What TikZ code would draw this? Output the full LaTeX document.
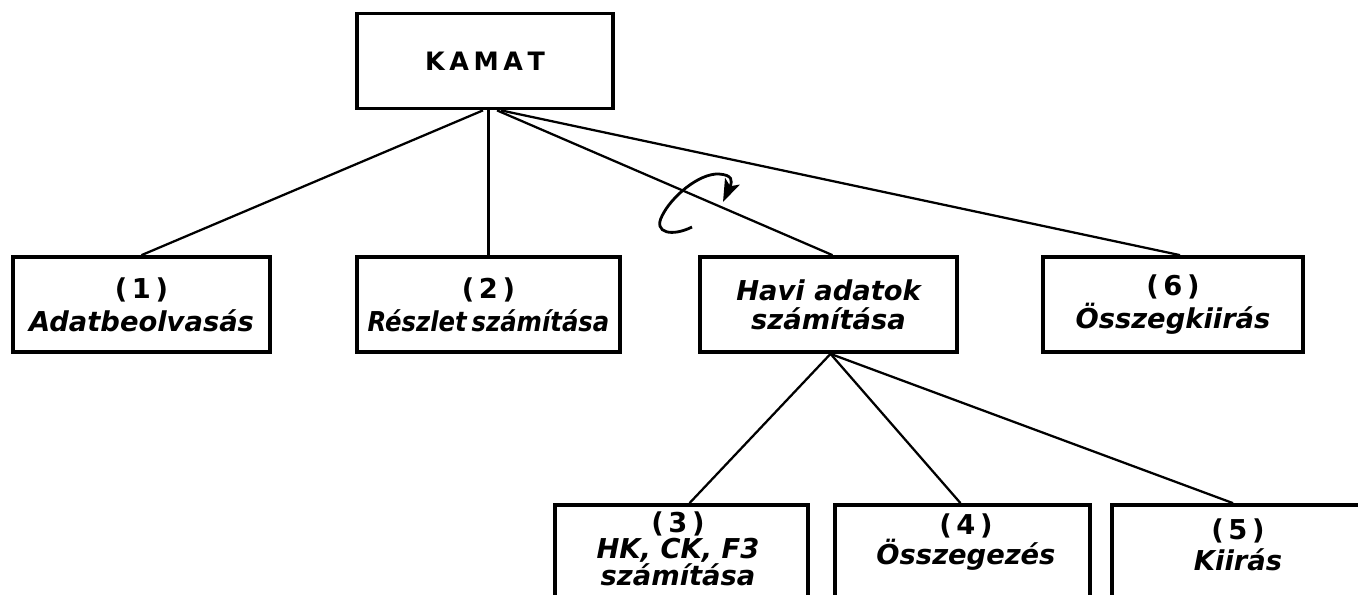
\documentclass[tikz,border=0pt]{standalone}
\usepackage{fontspec}
\usepackage{graphicx}
\setmainfont{DejaVu Sans}
\usetikzlibrary{arrows.meta,calc}
\newcommand\lblfont{\fontsize{20.5}{25}\selectfont\bfseries}
\newcommand\num[1]{{\upshape(\,#1\,)}}
\begin{document}
\begin{tikzpicture}[x=0.75pt,y=-0.75pt,
  box/.style={draw, rectangle, line width=2.8pt, inner sep=0pt, align=center, font=\lblfont},
  txt/.style={inner sep=0pt, align=center},
  conn/.style={line width=1.7pt},
  loop/.style={line width=2.1pt, -{Stealth[length=17pt,width=12pt,inset=4pt]}}]
\useasboundingbox (0,0) rectangle (1358,594);
\clip (0,0) rectangle (1358,594);
% top
\node[box, minimum width=256*0.75pt, minimum height=95*0.75pt,
      font=\fontsize{19}{22}\selectfont\bfseries] (kamat) at (485,61)
  {K\hspace{3.5pt}A\hspace{3.5pt}M\hspace{3.5pt}A\hspace{3.5pt}T};
% second row
\node[box, minimum width=257*0.75pt, minimum height=95*0.75pt] (b1) at (141.5,304.5)
  {\num{1}\\\itshape Adatbeolvasás};
\node[box, minimum width=263*0.75pt, minimum height=95*0.75pt] (b2) at (488.5,304.5)
  {\num{2}\\\scalebox{0.89}[1]{\itshape Részlet\hspace{0.2em}számítása}};
\node[box, minimum width=257*0.75pt, minimum height=95*0.75pt] (havi) at (828.5,304.5)
  {\itshape Havi adatok\\[-3pt]\itshape számítása};
\node[box, minimum width=260*0.75pt, minimum height=95*0.75pt] (b6) at (1173,304.5)
  {\num{6}\\\itshape Összegkiirás};
% third row
\node[box, minimum width=253*0.75pt, minimum height=105*0.75pt] (b3) at (681.5,557.5) {};
\node[box, minimum width=255*0.75pt, minimum height=105*0.75pt] (b4) at (962.5,557.5) {};
\node[box, minimum width=252*0.75pt, minimum height=105*0.75pt] (b5) at (1238,557.5) {};
\node[txt, font=\fontsize{20.5}{19}\selectfont\bfseries] (t3) at (678,549)
  {\num{3}\\\itshape HK, CK, F3\\\itshape számítása};
\node[txt, font=\fontsize{20.5}{21}\selectfont\bfseries] (t4) at (966,542)
  {\num{4}\\\itshape Összegezés};
\node[txt, font=\fontsize{20.5}{23}\selectfont\bfseries] (t5) at (1238,544.5)
  {\num{5}\\\itshape Kiirás};
% connectors
\draw[conn] ($(kamat.south)+(-2,0)$) -- (b1.north);
\draw[conn] (kamat.south -| b2.north) -- (b2.north);
\draw[conn] ($(kamat.south)+(12,0)$) -- ($(havi.north)+(4,0)$);
\draw[conn] ($(kamat.south)+(16,0)$) -- ($(b6.north)+(7,0)$);
\draw[conn] ($(havi.south)+(2,0)$) -- ($(b3.north)+(8,0)$);
\draw[conn] ($(havi.south)+(2,0)$) -- ($(b4.north)+(-2,0)$);
\draw[conn] ($(havi.south)+(2,0)$) -- ($(b5.north)+(-5,0)$);
% repetition arrow
\draw[loop] (692,227) .. controls (672,237) and (653,233) .. (662,216)
  .. controls (671,197) and (699,173) .. (719,174)
  .. controls (732,175) and (733,180) .. (723,202);
\end{tikzpicture}
\end{document}
